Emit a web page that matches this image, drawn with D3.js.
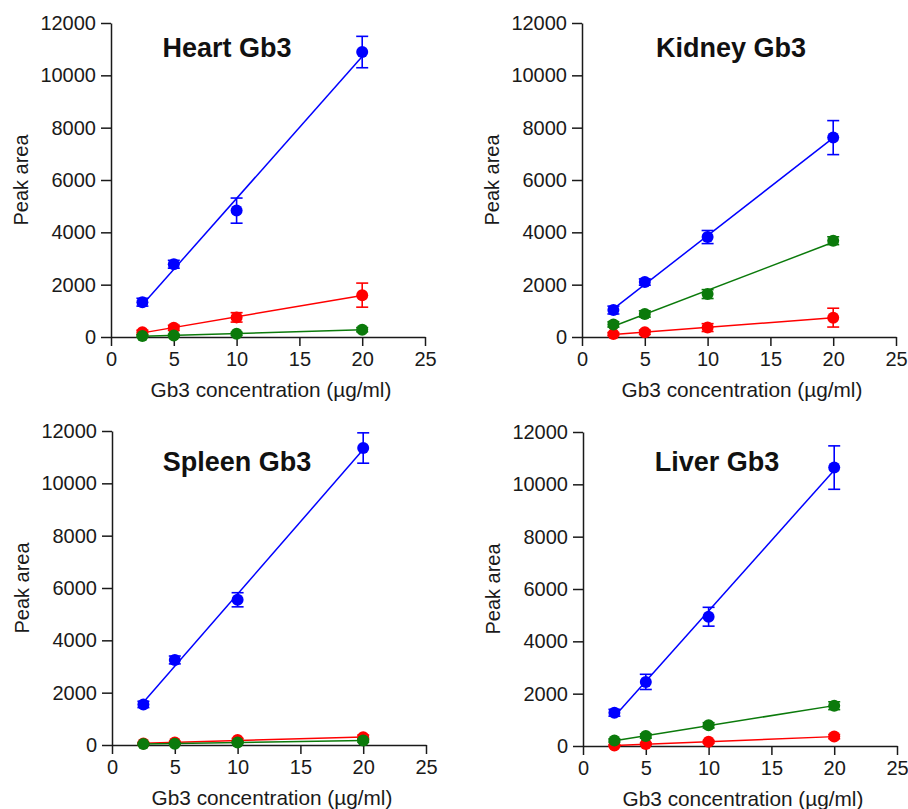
<!DOCTYPE html>
<html>
<head>
<meta charset="utf-8">
<script src="https://cdn.jsdelivr.net/npm/d3@7"></script>
<style>
  body { margin: 0; background: #fff; }
  svg { display: block; font-family: "Liberation Sans", Arial, sans-serif; }
  .tick text { font-size: 20px; fill: #1a1a1a; }
  .domain, .tick line { stroke: #1a1a1a; stroke-width: 1.5; }
</style>
</head>
<body>
<div id="chart"></div>
<script>
// values
const concentrations = [2.5, 5, 10, 20];
const panelTitles = ['Heart Gb3', 'Kidney Gb3', 'Spleen Gb3', 'Liver Gb3'];
const xTicks = [0, 5, 10, 15, 20, 25];
const yTicks = [0, 2000, 4000, 6000, 8000, 10000, 12000];

// one row per panel: Heart, Kidney, Spleen, Liver
const blueMean = [
  [1330, 2780, 4830, 10890],
  [1030, 2100, 3820, 7620],
  [1550, 3250, 5550, 11350],
  [1270, 2450, 4940, 10640],
];
const blueErr = [
  [150, 150, 480, 600],
  [150, 120, 250, 650],
  [120, 150, 270, 580],
  [130, 290, 360, 830],
];
const redMean = [
  [180, 350, 750, 1600],
  [110, 180, 360, 740],
  [60, 100, 190, 300],
  [20, 80, 160, 360],
];
const redErr = [
  [80, 100, 180, 460],
  [60, 80, 150, 360],
  [40, 40, 60, 80],
  [30, 40, 50, 80],
];
const greenMean = [
  [40, 60, 120, 280],
  [480, 880, 1640, 3680],
  [40, 50, 100, 170],
  [210, 380, 790, 1540],
];
const greenErr = [
  [40, 40, 60, 80],
  [100, 120, 170, 150],
  [30, 30, 40, 60],
  [60, 80, 100, 150],
];

// layout
const W = 908, H = 809;
const plotW = 314, plotH = 314;
const panelOrigins = [[111, 23], [582, 23], [112, 431], [583, 432]];
const titlePos = [[116, 34], [149, 34], [125, 40], [134, 39]];

const seriesDefs = [
  { mean: blueMean, err: blueErr, color: '#0000ff' },
  { mean: redMean, err: redErr, color: '#ff0000' },
  { mean: greenMean, err: greenErr, color: '#0b7a0b' },
];

function linearFit(xs, ys) {
  const mx = d3.mean(xs), my = d3.mean(ys);
  const sxy = d3.sum(xs, (x, i) => (x - mx) * (ys[i] - my));
  const sxx = d3.sum(xs, x => (x - mx) ** 2);
  const slope = sxy / sxx;
  return x => my + slope * (x - mx);
}

const svg = d3.select('#chart').append('svg')
  .attr('width', W)
  .attr('height', H);

svg.append('rect').attr('width', W).attr('height', H).attr('fill', '#fff');

panelTitles.forEach((title, p) => {
  const [ox, oy] = panelOrigins[p];
  const g = svg.append('g').attr('transform', `translate(${ox},${oy})`);

  const x = d3.scaleLinear().domain([0, 25]).range([0, plotW]);
  const y = d3.scaleLinear().domain([0, 12000]).range([plotH, 0]);

  g.append('g')
    .attr('transform', `translate(0,${plotH})`)
    .call(d3.axisBottom(x).tickValues(xTicks).tickFormat(d3.format('d'))
      .tickSize(9).tickPadding(6).tickSizeOuter(0));

  g.append('g')
    .call(d3.axisLeft(y).tickValues(yTicks).tickFormat(d3.format('d'))
      .tickSize(10).tickPadding(5).tickSizeOuter(0));

  g.selectAll('.tick text').attr('font-family', null).attr('font-size', null);

  g.append('text')
    .attr('transform', `translate(-83,${plotH / 2}) rotate(-90)`)
    .attr('text-anchor', 'middle')
    .attr('font-size', 20)
    .attr('fill', '#1a1a1a')
    .text('Peak area');

  g.append('text')
    .attr('x', plotW / 2 + 3)
    .attr('y', plotH + 60)
    .attr('text-anchor', 'middle')
    .attr('font-size', 20.8)
    .attr('fill', '#1a1a1a')
    .text('Gb3 concentration (µg/ml)');

  g.append('text')
    .attr('x', titlePos[p][0])
    .attr('y', titlePos[p][1])
    .attr('text-anchor', 'middle')
    .attr('font-size', 27)
    .attr('font-weight', 'bold')
    .attr('fill', '#111')
    .text(title);

  seriesDefs.forEach(s => {
    const pts = concentrations.map((c, i) => ({ c, v: s.mean[p][i], e: s.err[p][i] }));
    const fit = linearFit(concentrations, s.mean[p]);
    const x0 = d3.min(concentrations), x1 = d3.max(concentrations);
    const sg = g.append('g');

    sg.append('line')
      .attr('x1', x(x0)).attr('y1', y(fit(x0)))
      .attr('x2', x(x1)).attr('y2', y(fit(x1)))
      .attr('stroke', s.color)
      .attr('stroke-width', 1.5);

    const eb = sg.selectAll('g.err').data(pts).join('g').attr('class', 'err')
      .attr('stroke', s.color).attr('stroke-width', 1.6);
    eb.append('line')
      .attr('x1', d => x(d.c)).attr('x2', d => x(d.c))
      .attr('y1', d => y(d.v + d.e)).attr('y2', d => y(d.v - d.e));
    eb.append('line')
      .attr('x1', d => x(d.c) - 6).attr('x2', d => x(d.c) + 6)
      .attr('y1', d => y(d.v + d.e)).attr('y2', d => y(d.v + d.e));
    eb.append('line')
      .attr('x1', d => x(d.c) - 6).attr('x2', d => x(d.c) + 6)
      .attr('y1', d => y(d.v - d.e)).attr('y2', d => y(d.v - d.e));

    sg.selectAll('circle').data(pts).join('circle')
      .attr('cx', d => x(d.c))
      .attr('cy', d => y(d.v))
      .attr('r', 6)
      .attr('fill', s.color);
  });
});
</script>
</body>
</html>
